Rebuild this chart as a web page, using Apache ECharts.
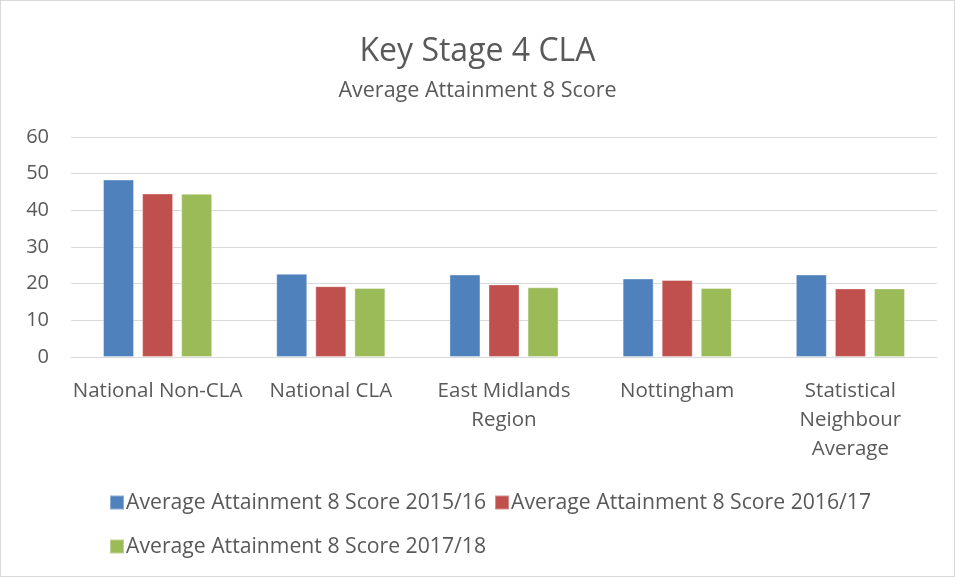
<!DOCTYPE html>
<html>
<head>
<meta charset="utf-8">
<script src="https://cdn.jsdelivr.net/npm/echarts@6/dist/echarts.min.js"></script>
<style>
  html, body { margin: 0; padding: 0; background: #fff; }
  #chart { width: 953px; height: 575px; border: 1px solid #d9d9d9; }
</style>
</head>
<body>
<div id="chart"></div>
<script>
  var categories = ['National Non-CLA', 'National CLA', 'East Midlands\nRegion', 'Nottingham', 'Statistical\nNeighbour\nAverage'];
  var score1516 = [48.4, 22.7, 22.5, 21.4, 22.5];
  var score1617 = [44.6, 19.3, 19.8, 21.0, 18.7];
  var score1718 = [44.5, 18.8, 19.0, 18.8, 18.7];
  var seriesNames = ['Average Attainment 8 Score 2015/16', 'Average Attainment 8 Score 2016/17', 'Average Attainment 8 Score 2017/18'];
  var colors = ['#4f81bd', '#c0504d', '#9bbb59'];

  var font = '"Open Sans", "Noto Sans", sans-serif';
  var chart = echarts.init(document.getElementById('chart'));

  function bar(name, data, color) {
    return {
      name: name,
      type: 'bar',
      data: data,
      barGap: '26%',
      barCategoryGap: '37%',
      itemStyle: { color: color, borderColor: 'rgba(255,255,255,0.35)', borderWidth: 1 }
    };
  }

  function legend(top, names) {
    return {
      left: 103,
      top: top,
      itemWidth: 14,
      itemHeight: 14,
      itemGap: 8,
      icon: 'rect',
      textStyle: { fontSize: 21.2, color: '#595959', fontFamily: font, padding: [0, 0, 0, -3] },
      data: names
    };
  }

  chart.setOption({
    animation: false,
    color: colors,
    textStyle: { fontFamily: font },
    title: {
      text: 'Key Stage 4 CLA',
      subtext: 'Average Attainment 8 Score',
      left: 'center',
      top: 30,
      itemGap: 12,
      textStyle: { fontSize: 32, fontWeight: 'normal', color: '#595959', fontFamily: font },
      subtextStyle: { fontSize: 21.5, color: '#595959', fontFamily: font }
    },
    grid: { left: 70, right: 17, top: 136, bottom: 219, containLabel: false },
    legend: [
      legend(486, [seriesNames[0], seriesNames[1]]),
      legend(530, [seriesNames[2]])
    ],
    xAxis: {
      type: 'category',
      data: categories,
      axisLine: { lineStyle: { color: '#d9d9d9', width: 1 } },
      axisTick: { show: false },
      axisLabel: { color: '#595959', fontSize: 20.5, lineHeight: 29, margin: 20, interval: 0 }
    },
    yAxis: {
      type: 'value',
      min: 0,
      max: 60,
      interval: 10,
      axisLine: { show: false },
      axisTick: { show: false },
      splitLine: { lineStyle: { color: '#d9d9d9', width: 1 } },
      axisLabel: { color: '#595959', fontSize: 20, margin: 22 }
    },
    series: [
      bar(seriesNames[0], score1516, colors[0]),
      bar(seriesNames[1], score1617, colors[1]),
      bar(seriesNames[2], score1718, colors[2])
    ]
  });
</script>
</body>
</html>
